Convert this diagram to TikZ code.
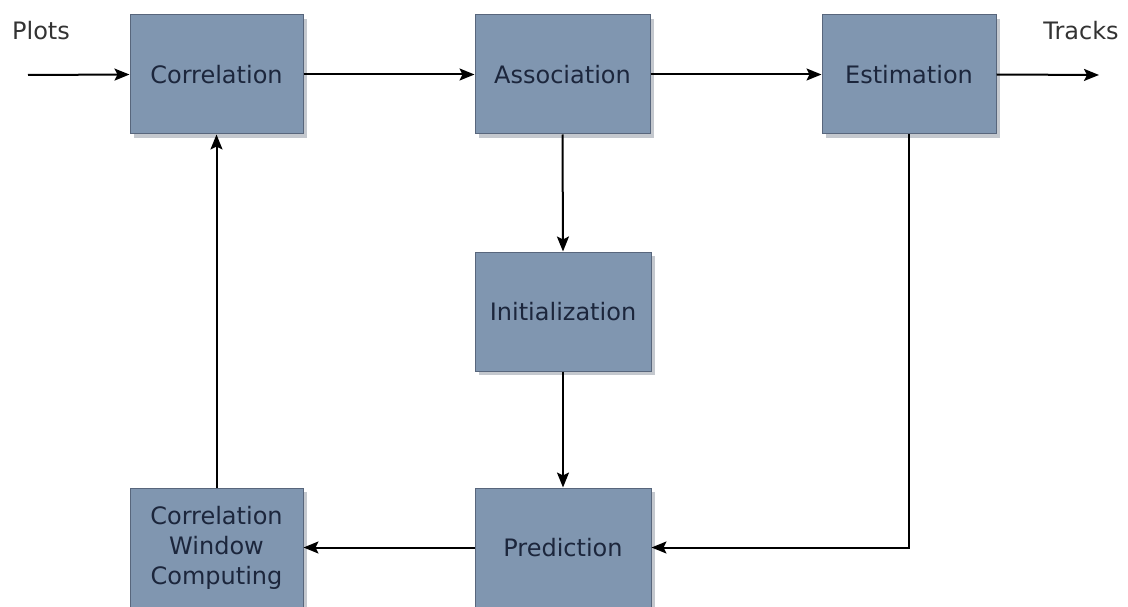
\documentclass[tikz,border=0pt]{standalone}
\usepackage{fontspec}
\setmainfont{DejaVu Sans}
\usetikzlibrary{arrows.meta,shadows}
\definecolor{boxfill}{RGB}{128,150,176}
\definecolor{boxline}{RGB}{88,102,124}
\definecolor{boxtext}{RGB}{28,38,60}
\definecolor{shade}{RGB}{196,200,206}
\tikzset{
  block/.style={draw=boxline, line width=1pt, fill=boxfill, text=boxtext,
    minimum height=119pt, inner sep=0pt, align=center,
    font=\fontsize{24}{30}\selectfont,
    drop shadow={shadow xshift=4pt, shadow yshift=-4pt, fill=shade, opacity=1}},
  flow/.style={line width=2pt, -{Stealth[length=15pt,width=12pt,inset=3pt]}},
  label/.style={font=\fontsize{24}{28}\selectfont, text=black!80, inner sep=0pt}
}
\begin{document}
\begin{tikzpicture}[x=1pt,y=-1pt]
  \useasboundingbox (0,0) rectangle (1128,607);

  % processing blocks
  \node[block, minimum width=173pt] (corr) at (216.5,74.5) {Correlation};
  \node[block, minimum width=175pt] (assoc) at (562.5,74.5) {Association};
  \node[block, minimum width=174pt] (est) at (909,74.5) {Estimation};
  \node[block, minimum width=176pt] (init) at (563,311.5) {Initialization};
  \node[block, minimum width=176pt] (pred) at (563,547.5) {Prediction};
  \node[block, minimum width=173pt] (cwc) at (216.5,547.5) {Correlation\\Window\\Computing};

  % input and output
  \node[label] (plots) at (41,31) {Plots};
  \node[label] (tracks) at (1081,31) {Tracks};
  \coordinate (in) at (28,75);
  \coordinate (out) at (1099,75);

  % connections
  \draw[flow] (in) -- (corr.west);
  \draw[flow] (corr.east) -- (assoc.west);
  \draw[flow] (assoc.east) -- (est.west);
  \draw[flow] (est.east) -- (out);
  \draw[flow] (assoc.south) -- (init.north);
  \draw[flow] (init.south) -- (pred.north);
  \draw[flow] (est.south) |- (pred.east);
  \draw[flow] (pred.west) -- (cwc.east);
  \draw[flow] (cwc.north) -- (corr.south);
\end{tikzpicture}
\end{document}
